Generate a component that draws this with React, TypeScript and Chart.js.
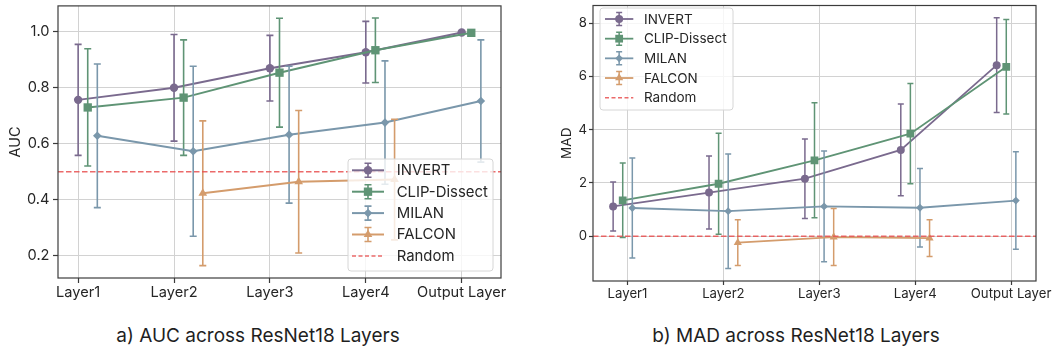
import React, { useEffect, useRef } from 'react';
import { Chart, registerables } from 'chart.js';

Chart.register(...registerables);

// ---------- data ----------
const categories = ['Layer1', 'Layer2', 'Layer3', 'Layer4', 'Output Layer'];
const seriesNames = ['INVERT', 'CLIP-Dissect', 'MILAN', 'FALCON'];
const seriesColors = ['#7a6a8e', '#5f9475', '#7a97ab', '#d49c6c'];
const markerStyles = ['circle', 'rect', 'rectRot', 'triangle'];
const randomLabel = 'Random';
const randomColor = 'rgba(232, 80, 80, 0.85)';

// AUC (left panel)
const aucInvert = [0.756, 0.799, 0.869, 0.926, 0.996];
const aucInvertErr = [0.198, 0.19, 0.117, 0.11, 0.0];
const aucClip = [0.729, 0.764, 0.853, 0.933, 0.995];
const aucClipErr = [0.209, 0.206, 0.194, 0.115, 0.0];
const aucMilan = [0.628, 0.573, 0.632, 0.675, 0.752];
const aucMilanErr = [0.256, 0.303, 0.244, 0.22, 0.218];
const aucFalcon = [null, 0.423, 0.464, 0.472, null];
const aucFalconErr = [null, 0.258, 0.254, 0.215, null];
const aucRandom = 0.5;
const aucTicks = [0.2, 0.4, 0.6, 0.8, 1.0];

// MAD (right panel)
const madInvert = [1.12, 1.64, 2.16, 3.24, 6.42];
const madInvertErr = [0.92, 1.37, 1.49, 1.72, 1.78];
const madClip = [1.35, 1.97, 2.85, 3.85, 6.36];
const madClipErr = [1.4, 1.9, 2.16, 1.88, 1.77];
const madMilan = [1.06, 0.94, 1.12, 1.07, 1.34];
const madMilanErr = [1.88, 2.15, 2.08, 1.47, 1.83];
const madFalcon = [null, -0.24, -0.03, -0.07, null];
const madFalconErr = [null, 0.86, 1.07, 0.69, null];
const madRandom = 0;
const madTicks = [0, 2, 4, 6, 8];

const captionLeft = 'a) AUC across ResNet18 Layers';
const captionRight = 'b) MAD across ResNet18 Layers';

// ---------- helpers ----------
function drawMarker(ctx: CanvasRenderingContext2D, style: string, x: number, y: number, r: number) {
  ctx.beginPath();
  if (style === 'circle') {
    ctx.arc(x, y, r, 0, Math.PI * 2);
  } else if (style === 'rect') {
    const s = r * Math.SQRT1_2;
    ctx.rect(x - s, y - s, 2 * s, 2 * s);
  } else if (style === 'rectRot') {
    ctx.moveTo(x, y - r);
    ctx.lineTo(x + r, y);
    ctx.lineTo(x, y + r);
    ctx.lineTo(x - r, y);
    ctx.closePath();
  } else {
    for (let k = 0; k < 3; k++) {
      const a = (k * 2 * Math.PI) / 3;
      const px = x + r * Math.sin(a);
      const py = y - r * Math.cos(a);
      if (k === 0) ctx.moveTo(px, py);
      else ctx.lineTo(px, py);
    }
    ctx.closePath();
  }
  ctx.fill();
}

const errorBarPlugin = {
  id: 'errorBars',
  beforeDatasetDraw(chart: any, args: any, opts: any) {
    const ds = chart.data.datasets[args.index];
    if (!ds.hasErrors) return;
    const yScale = chart.scales.y;
    const ctx = chart.ctx as CanvasRenderingContext2D;
    ctx.save();
    ctx.strokeStyle = ds.borderColor;
    ctx.lineWidth = opts.lineWidth;
    args.meta.data.forEach((pt: any, i: number) => {
      const raw = ds.data[i];
      if (!raw || raw.e == null || raw.e <= 0) return;
      const x = pt.x;
      const yt = yScale.getPixelForValue(raw.y + raw.e);
      const yb = yScale.getPixelForValue(raw.y - raw.e);
      ctx.beginPath();
      ctx.moveTo(x, yt);
      ctx.lineTo(x, yb);
      ctx.moveTo(x - opts.cap, yt);
      ctx.lineTo(x + opts.cap, yt);
      ctx.moveTo(x - opts.cap, yb);
      ctx.lineTo(x + opts.cap, yb);
      ctx.stroke();
    });
    ctx.restore();
  },
};

const framePlugin = {
  id: 'frame',
  afterDatasetsDraw(chart: any, _args: any, opts: any) {
    const { left, top, right, bottom } = chart.chartArea;
    const ctx = chart.ctx as CanvasRenderingContext2D;
    ctx.save();
    ctx.strokeStyle = opts.color;
    ctx.lineWidth = opts.width;
    ctx.strokeRect(left, top, right - left, bottom - top);
    ctx.restore();
  },
};

const axisTitlePlugin = {
  id: 'axisTitle',
  afterDraw(chart: any, _args: any, opts: any) {
    const { top, bottom } = chart.chartArea;
    const ctx = chart.ctx as CanvasRenderingContext2D;
    ctx.save();
    ctx.translate(opts.x, (top + bottom) / 2);
    ctx.rotate(-Math.PI / 2);
    ctx.font = `${opts.size}px Inter`;
    ctx.fillStyle = '#262626';
    ctx.textAlign = 'center';
    ctx.textBaseline = 'middle';
    ctx.fillText(opts.text, 0, 0);
    ctx.restore();
  },
};

const boxLegendPlugin = {
  id: 'boxLegend',
  afterDraw(chart: any, _args: any, o: any) {
    const ctx = chart.ctx as CanvasRenderingContext2D;
    ctx.save();
    const r = 3;
    ctx.beginPath();
    ctx.moveTo(o.x + r, o.y);
    ctx.arcTo(o.x + o.w, o.y, o.x + o.w, o.y + o.h, r);
    ctx.arcTo(o.x + o.w, o.y + o.h, o.x, o.y + o.h, r);
    ctx.arcTo(o.x, o.y + o.h, o.x, o.y, r);
    ctx.arcTo(o.x, o.y, o.x + o.w, o.y, r);
    ctx.closePath();
    ctx.fillStyle = 'rgba(255,255,255,0.8)';
    ctx.fill();
    ctx.strokeStyle = '#d6d6d6';
    ctx.lineWidth = 1;
    ctx.stroke();

    const h0 = o.x + o.h0;
    const h1 = o.x + o.h1;
    const hm = (h0 + h1) / 2;
    ctx.font = `${o.size}px Inter`;
    ctx.textBaseline = 'middle';
    ctx.textAlign = 'left';
    seriesNames.forEach((name, i) => {
      const yy = o.y + o.row0 + i * o.rowH;
      const c = seriesColors[i];
      ctx.strokeStyle = c;
      ctx.fillStyle = c;
      ctx.lineWidth = o.lineW;
      ctx.beginPath();
      ctx.moveTo(h0, yy);
      ctx.lineTo(h1, yy);
      ctx.stroke();
      ctx.lineWidth = o.errW;
      ctx.beginPath();
      ctx.moveTo(hm, yy - o.errH);
      ctx.lineTo(hm, yy + o.errH);
      ctx.moveTo(hm - o.cap, yy - o.errH);
      ctx.lineTo(hm + o.cap, yy - o.errH);
      ctx.moveTo(hm - o.cap, yy + o.errH);
      ctx.lineTo(hm + o.cap, yy + o.errH);
      ctx.stroke();
      drawMarker(ctx, markerStyles[i], hm, yy, o.markerR[i]);
      ctx.fillStyle = '#262626';
      ctx.fillText(name, o.x + o.textX, yy + 0.5);
    });
    const yr = o.y + o.row0 + 4 * o.rowH;
    ctx.strokeStyle = randomColor;
    ctx.lineWidth = 1.5;
    ctx.setLineDash([4, 2.5]);
    ctx.beginPath();
    ctx.moveTo(h0, yr);
    ctx.lineTo(h1, yr);
    ctx.stroke();
    ctx.setLineDash([]);
    ctx.fillStyle = '#262626';
    ctx.fillText(randomLabel, o.x + o.textX, yr + 0.5);
    ctx.restore();
  },
};

type PanelCfg = {
  left: number;
  width: number;
  height: number;
  padTop: number;
  padRight: number;
  yAxisW: number;
  xAxisH: number;
  xMin: number;
  xMax: number;
  yMin: number;
  yMax: number;
  yTicks: number[];
  yDecimals: number;
  offsets: number[];
  values: (number | null)[][];
  errors: (number | null)[][];
  randomY: number;
  font: number;
  tickLen: number;
  yPad: number;
  xPad: number;
  yTitle: string;
  yTitleX: number;
  yTitleSize: number;
  markerR: number[];
  lineW: number;
  errW: number;
  cap: number;
  legend: any;
};

const leftPanel: PanelCfg = {
  left: 0,
  width: 525,
  height: 310,
  padTop: 2,
  padRight: 24,
  yAxisW: 58,
  xAxisH: 32,
  xMin: -0.21,
  xMax: 4.41,
  yMin: 0.121,
  yMax: 1.091,
  yTicks: aucTicks,
  yDecimals: 1,
  offsets: [0, 0.1, 0.2, 0.3],
  values: [aucInvert, aucClip, aucMilan, aucFalcon],
  errors: [aucInvertErr, aucClipErr, aucMilanErr, aucFalconErr],
  randomY: aucRandom,
  font: 14.6,
  tickLen: 5,
  yPad: 3.5,
  xPad: 1,
  yTitle: 'AUC',
  yTitleX: 15.7,
  yTitleSize: 14.4,
  markerR: [4.2, 5.9, 4.3, 5],
  lineW: 2,
  errW: 1.6,
  cap: 3.5,
  legend: {
    x: 348, y: 159, w: 145, h: 112, row0: 11.3, rowH: 21.4, h0: 4, h1: 36, textX: 48.7,
    size: 14.9, markerR: [4.2, 5.9, 4.3, 5], lineW: 2, errW: 1.6, errH: 7, cap: 3.5,
  },
};

const rightPanel: PanelCfg = {
  left: 525,
  width: 528,
  height: 310,
  padTop: 1,
  padRight: 17,
  yAxisW: 68,
  xAxisH: 29,
  xMin: -0.36,
  xMax: 4.26,
  yMin: -1.68,
  yMax: 8.66,
  yTicks: madTicks,
  yDecimals: 0,
  offsets: [-0.15, -0.05, 0.05, 0.15],
  values: [madInvert, madClip, madMilan, madFalcon],
  errors: [madInvertErr, madClipErr, madMilanErr, madFalconErr],
  randomY: madRandom,
  font: 13.2,
  tickLen: 4,
  yPad: 2,
  xPad: 1,
  yTitle: 'MAD',
  yTitleX: 42.3,
  yTitleSize: 13.5,
  markerR: [4, 5.5, 3.9, 4.7],
  lineW: 1.8,
  errW: 1.5,
  cap: 3,
  legend: {
    x: 75, y: 8, w: 133, h: 102, row0: 11, rowH: 19.67, h0: 5, h1: 33.3, textX: 44,
    size: 13.5, markerR: [4, 5.5, 3.9, 4.7], lineW: 1.8, errW: 1.5, errH: 6.5, cap: 3,
  },
};

function buildConfig(p: PanelCfg): any {
  const datasets: any[] = seriesNames.map((name, si) => ({
    label: name,
    data: categories
      .map((_, ci) => ({ x: ci + p.offsets[si], y: p.values[si][ci], e: p.errors[si][ci] }))
      .filter((d) => d.y !== null),
    hasErrors: true,
    borderColor: seriesColors[si],
    backgroundColor: seriesColors[si],
    pointBackgroundColor: seriesColors[si],
    pointBorderWidth: 0,
    pointStyle: markerStyles[si],
    pointRadius: p.markerR[si],
    borderWidth: p.lineW,
    tension: 0,
    order: -si,
  }));
  datasets.push({
    label: randomLabel,
    data: [
      { x: p.xMin, y: p.randomY },
      { x: p.xMax, y: p.randomY },
    ],
    borderColor: randomColor,
    borderDash: [5.5, 2.5],
    borderWidth: 1.5,
    pointRadius: 0,
    order: -10,
  });

  const gridColor = '#d2d2d2';
  const tickColor = '#3a3a3a';
  const labelColor = '#262626';

  return {
    type: 'line',
    data: { datasets },
    plugins: [errorBarPlugin, framePlugin, axisTitlePlugin, boxLegendPlugin],
    options: {
      animation: false,
      responsive: false,
      devicePixelRatio: 1,
      events: [],
      layout: { padding: { left: 0, top: p.padTop, right: p.padRight, bottom: 0 } },
      plugins: {
        legend: { display: false },
        tooltip: { enabled: false },
        title: { display: false },
        errorBars: { lineWidth: p.errW, cap: p.cap },
        frame: { color: '#3c3c3c', width: 1.2 },
        axisTitle: { text: p.yTitle, x: p.yTitleX, size: p.yTitleSize },
        boxLegend: p.legend,
      },
      scales: {
        x: {
          type: 'linear',
          min: p.xMin,
          max: p.xMax,
          afterBuildTicks: (s: any) => {
            s.ticks = categories.map((_, i) => ({ value: i }));
          },
          afterFit: (s: any) => {
            s.height = p.xAxisH;
            s.paddingLeft = 0;
            s.paddingRight = 0;
          },
          ticks: {
            autoSkip: false,
            maxRotation: 0,
            minRotation: 0,
            padding: p.xPad,
            color: labelColor,
            font: { family: 'Inter', size: p.font },
            callback: (v: number) => categories[Math.round(v)] ?? '',
          },
          grid: {
            color: gridColor,
            lineWidth: 1,
            drawTicks: true,
            tickLength: p.tickLen,
            tickColor: tickColor,
            tickWidth: 1.2,
          },
          border: { display: false },
        },
        y: {
          type: 'linear',
          min: p.yMin,
          max: p.yMax,
          afterBuildTicks: (s: any) => {
            s.ticks = p.yTicks.map((v) => ({ value: v }));
          },
          afterFit: (s: any) => {
            s.width = p.yAxisW;
            s.paddingTop = 0;
            s.paddingBottom = 0;
          },
          ticks: {
            padding: p.yPad,
            color: labelColor,
            font: { family: 'Inter', size: p.font },
            callback: (v: number) => Number(v).toFixed(p.yDecimals),
          },
          grid: {
            color: gridColor,
            lineWidth: 1,
            drawTicks: true,
            tickLength: p.tickLen,
            tickColor: tickColor,
            tickWidth: 1.2,
          },
          border: { display: false },
        },
      },
    },
  };
}

function ChartPanel({ p }: { p: PanelCfg }) {
  const ref = useRef<HTMLCanvasElement>(null);
  useEffect(() => {
    if (!ref.current) return;
    const chart = new Chart(ref.current, buildConfig(p));
    return () => chart.destroy();
  }, [p]);
  return (
    <canvas
      ref={ref}
      width={p.width}
      height={p.height}
      style={{ position: 'absolute', left: p.left, top: 0, width: p.width, height: p.height }}
    />
  );
}

const captionStyle: React.CSSProperties = {
  position: 'absolute',
  top: 324,
  width: 400,
  textAlign: 'center',
  fontFamily: 'Inter, sans-serif',
  fontSize: 19,
  lineHeight: '24px',
  color: '#1f1f1f',
  whiteSpace: 'nowrap',
};

export default function App() {
  return (
    <div
      style={{
        position: 'absolute',
        left: 0,
        top: 0,
        width: 1053,
        height: 354,
        background: '#ffffff',
        overflow: 'hidden',
      }}
    >
      <ChartPanel p={leftPanel} />
      <ChartPanel p={rightPanel} />
      <div style={{ ...captionStyle, left: 258 - 200 }}>{captionLeft}</div>
      <div style={{ ...captionStyle, left: 796 - 200 }}>{captionRight}</div>
    </div>
  );
}
